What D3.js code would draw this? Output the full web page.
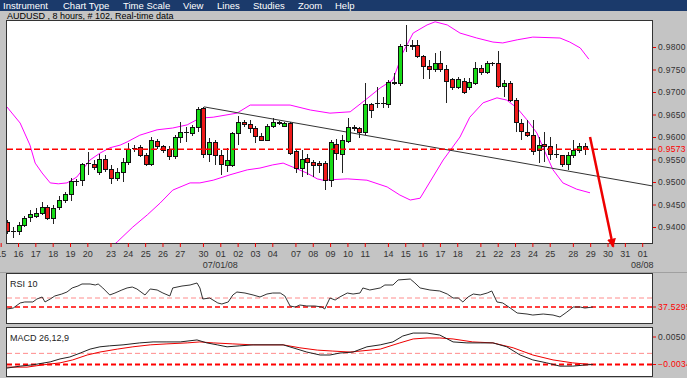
<!DOCTYPE html>
<html>
<head>
<meta charset="utf-8">
<title>AUDUSD 8 hours</title>
<script src="https://d3js.org/d3.v7.min.js"></script>
<style>
  body { margin: 0; background: #c4c4c4; }
  svg { display: block; font-family: "Liberation Sans", Arial, sans-serif; }
</style>
</head>
<body>
<div id="chart"></div>
<script>
// ---- data ----
const menuLabels = ["Instrument", "Chart Type", "Time Scale", "View", "Lines", "Studies", "Zoom", "Help"];
const titleText = "AUDUSD , 8 hours, # 102, Real-time data";

// day ticks (slot = 8h bar index, 0 = Jun 16 00:00)
const dayLabels = ["15","16","17","18","19","20","23","24","25","26","27","30","01","02","03","04","07","08","09","10","11","14","15","16","17","18","21","22","23","24","25","28","29","30","31","01"];
const daySlots = [-3,0,3,6,9,12,16,19,22,25,28,32,35,38,41,44,48,51,54,57,60,64,67,70,73,76,80,83,86,89,92,96,99,102,105,108];
const monthLabels = ["07/01/08", "08/08"];
const monthSlots = [35, 108];

const priceTicks = [0.9400, 0.9450, 0.9500, 0.9550, 0.9600, 0.9650, 0.9700, 0.9750, 0.9800];
const lastPrice = 0.9573;

// candles, first one at slot -2
const firstSlot = -2;
const candleOpen = [
  0.9409,0.9389,0.9389,0.9404,0.9422,0.9424,0.9431,0.9444,0.9420,0.9444,
  0.9460,0.9473,0.9502,0.9504,0.9542,0.9540,0.9522,0.9551,0.9527,0.9507,
  0.9522,0.9544,0.9575,0.9576,0.9560,0.9540,0.9591,0.9578,0.9573,0.9556,
  0.9600,0.9610,0.9607,0.9622,0.9664,0.9562,0.9587,0.9560,0.9536,0.9536,
  0.9607,0.9633,0.9627,0.9620,0.9602,0.9593,0.9624,0.9633,0.9624,0.9629,
  0.9567,0.9531,0.9553,0.9544,0.9542,0.9542,0.9504,0.9584,0.9562,0.9591,
  0.9622,0.9618,0.9609,0.9673,0.9675,0.9675,0.9673,0.9720,0.9718,0.9803,
  0.9802,0.9804,0.9778,0.9756,0.9749,0.9764,0.9751,0.9727,0.9711,0.9724,
  0.9711,0.9720,0.9753,0.9744,0.9764,0.9764,0.9713,0.9720,0.9682,0.9631,
  0.9611,0.9604,0.9569,0.9584,0.9578,0.9561,0.9558,0.9540,0.9558,0.9571,0.9578];
const candleHigh = [
  0.9416,0.9400,0.9411,0.9424,0.9438,0.9442,0.9456,0.9449,0.9449,0.9469,
  0.9478,0.9509,0.9507,0.9542,0.9567,0.9549,0.9562,0.9560,0.9538,0.9531,
  0.9553,0.9587,0.9582,0.9582,0.9564,0.9600,0.9596,0.9582,0.9580,0.9604,
  0.9633,0.9622,0.9627,0.9667,0.9667,0.9598,0.9593,0.9571,0.9576,0.9611,
  0.9647,0.9638,0.9638,0.9624,0.9609,0.9629,0.9642,0.9636,0.9633,0.9633,
  0.9571,0.9571,0.9562,0.9549,0.9547,0.9547,0.9593,0.9596,0.9604,0.9642,
  0.9627,0.9622,0.9720,0.9676,0.9711,0.9689,0.9727,0.9742,0.9807,0.9849,
  0.9815,0.9815,0.9782,0.9771,0.9787,0.9791,0.9760,0.9731,0.9733,0.9731,
  0.9731,0.9767,0.9760,0.9769,0.9767,0.9791,0.9727,0.9724,0.9687,0.9640,
  0.9638,0.9638,0.9600,0.9611,0.9600,0.9584,0.9560,0.9567,0.9593,0.9587,0.9587];
const candleLow = [
  0.9384,0.9376,0.9382,0.9400,0.9411,0.9420,0.9427,0.9416,0.9407,0.9438,
  0.9453,0.9458,0.9491,0.9491,0.9516,0.9527,0.9516,0.9522,0.9496,0.9502,
  0.9500,0.9538,0.9567,0.9556,0.9536,0.9536,0.9573,0.9564,0.9549,0.9551,
  0.9587,0.9589,0.9602,0.9611,0.9553,0.9544,0.9538,0.9516,0.9522,0.9533,
  0.9582,0.9622,0.9609,0.9587,0.9591,0.9591,0.9620,0.9627,0.9622,0.9560,
  0.9520,0.9511,0.9516,0.9511,0.9520,0.9482,0.9489,0.9549,0.9520,0.9587,
  0.9613,0.9598,0.9604,0.9642,0.9664,0.9664,0.9664,0.9716,0.9713,0.9789,
  0.9793,0.9776,0.9729,0.9729,0.9744,0.9744,0.9676,0.9704,0.9707,0.9696,
  0.9704,0.9716,0.9738,0.9740,0.9758,0.9709,0.9689,0.9678,0.9611,0.9593,
  0.9600,0.9560,0.9542,0.9544,0.9549,0.9553,0.9533,0.9527,0.9553,0.9564,0.9560];
const candleClose = [
  0.9389,0.9389,0.9404,0.9420,0.9427,0.9431,0.9444,0.9420,0.9442,0.9458,
  0.9473,0.9502,0.9502,0.9538,0.9542,0.9533,0.9551,0.9527,0.9507,0.9522,
  0.9544,0.9573,0.9575,0.9560,0.9540,0.9593,0.9578,0.9571,0.9556,0.9600,
  0.9609,0.9610,0.9622,0.9662,0.9562,0.9587,0.9558,0.9538,0.9547,0.9607,
  0.9633,0.9627,0.9620,0.9602,0.9593,0.9624,0.9633,0.9631,0.9631,0.9564,
  0.9531,0.9551,0.9544,0.9536,0.9536,0.9504,0.9587,0.9564,0.9593,0.9622,
  0.9618,0.9609,0.9673,0.9660,0.9675,0.9675,0.9722,0.9722,0.9802,0.9803,
  0.9804,0.9778,0.9756,0.9749,0.9764,0.9749,0.9724,0.9711,0.9727,0.9698,
  0.9722,0.9753,0.9744,0.9764,0.9764,0.9713,0.9720,0.9682,0.9633,0.9613,
  0.9604,0.9567,0.9582,0.9578,0.9562,0.9561,0.9540,0.9558,0.9571,0.9578,0.9573];

// bollinger bands
const upperSlots = [-2.1,0.2,1.9,2.8,4.0,5.4,6.8,8.3,10.0,12.3,14.0,15.7,17.5,18.7,20.9,23.9,26.6,29.1,31.3,33.6,37.7,40.0,46.9,50.4,53.8,57.3,59.9,62.5,64.7,66.4,68.2,70.6,72.0,74.1,76.3,79.2,82.0,83.7,86.2,88.9,93.6,95.3,97.1,98.6];
const upperBand = [0.9667,0.9631,0.9582,0.9542,0.9520,0.9498,0.9496,0.9498,0.9511,0.9549,0.9564,0.9576,0.9582,0.9589,0.9604,0.9616,0.9620,0.9627,0.9642,0.9644,0.9653,0.9671,0.9671,0.9660,0.9653,0.9656,0.9682,0.9709,0.9727,0.9787,0.9831,0.9849,0.9856,0.9849,0.9831,0.9820,0.9811,0.9809,0.9816,0.9822,0.9820,0.9811,0.9798,0.9773];
const lowerSlots = [15.5,17.0,19.7,22.2,24.4,26.6,29.6,31.3,33.6,36.5,39.5,41.7,43.9,45.7,47.4,49.8,51.6,52.6,56.8,60.2,63.7,65.9,67.7,69.4,73.4,76.3,78.0,80.3,82.7,84.4,86.2,87.9,89.6,91.0,92.4,94.1,96.5,98.8];
const lowerBand = [0.9350,0.9367,0.9400,0.9427,0.9453,0.9482,0.9498,0.9498,0.9504,0.9516,0.9527,0.9531,0.9538,0.9542,0.9533,0.9520,0.9507,0.9504,0.9507,0.9504,0.9489,0.9471,0.9460,0.9464,0.9549,0.9600,0.9644,0.9676,0.9687,0.9682,0.9664,0.9638,0.9609,0.9567,0.9527,0.9498,0.9484,0.9476];

// hand drawn lines
const trendSlots = [32, 109.7];
const trendPrices = [0.9667, 0.9491];
const arrowSlots = [98.8, 102.8];
const arrowPrices = [0.9600, 0.9356];

// RSI 10
const rsiSlots = [-2.1,-1.0,0.2,1.0,2.4,3.1,4.0,4.5,5.4,6.2,7.4,8.3,9.2,10.2,10.9,12.3,13.2,13.7,14.5,15.7,16.6,17.8,18.7,19.6,20.4,21.8,22.7,23.9,24.9,26.1,26.6,28.2,29.6,30.8,31.3,31.8,33.0,34.4,35.1,36.2,37.0,37.7,39.1,40.5,41.7,42.9,43.9,45.2,46.0,46.9,47.8,48.6,49.8,51.2,52.4,52.9,53.8,54.7,55.5,56.8,57.8,59.0,59.5,60.7,62.5,63.3,64.7,65.6,67.7,68.5,69.4,71.1,72.8,74.1,75.1,76.0,76.8,77.7,78.6,79.8,81.0,81.8,82.7,83.7,85.0,86.2,87.9,88.9,90.7,92.4,93.6,94.8,95.9,97.1,97.9,99.3];
const rsiValues = [34.8,36.1,43.1,44.5,44.5,48.6,51.4,44.5,48.6,52.8,55.5,58.3,63.9,66.6,69.4,69.4,68.0,69.4,63.9,54.2,56.9,61.1,63.9,65.2,62.5,54.2,62.5,61.1,56.9,52.8,63.9,66.6,68.0,70.8,63.9,48.6,50.0,43.1,41.7,44.5,54.2,58.3,56.9,54.2,51.4,55.5,56.9,56.9,52.8,38.9,37.5,40.3,38.9,38.9,37.5,34.8,50.0,47.2,51.4,56.9,55.5,56.9,63.9,61.1,63.9,68.0,68.0,75.0,76.3,70.8,63.9,61.1,59.7,55.5,50.0,50.0,44.5,51.4,55.5,54.2,56.9,59.7,44.5,43.1,36.1,29.2,27.8,26.4,27.8,26.4,23.7,30.6,37.5,37.5,36.1,37.5];
const rsiMid = 50;
const rsiLast = 37.5295;

// MACD 26,12,9
const macdSlots = [-2.1,0.2,2.4,5.4,7.1,8.8,10.6,12.3,14.0,15.7,18.0,20.9,23.2,25.6,27.9,30.8,32.5,34.3,36.0,38.2,40.5,45.7,47.4,49.8,52.1,53.8,55.5,57.8,60.2,62.5,64.7,66.4,68.2,70.6,72.8,75.1,77.5,79.8,82.0,84.4,86.7,88.9,91.3,93.6,95.8,98.3,99.3];
const macdValues = [-0.0045,-0.0039,-0.0035,-0.0026,-0.0017,-0.0011,0.0001,0.0013,0.0020,0.0023,0.0026,0.0032,0.0035,0.0035,0.0035,0.0041,0.0032,0.0026,0.0020,0.0023,0.0026,0.0026,0.0017,0.0004,-0.0005,-0.0005,0.0001,0.0004,0.0020,0.0026,0.0035,0.0053,0.0062,0.0062,0.0056,0.0035,0.0032,0.0032,0.0032,0.0020,-0.0005,-0.0020,-0.0029,-0.0039,-0.0039,-0.0035,-0.0034];
const signalSlots = [-2.1,1.4,4.2,7.1,9.3,11.8,14.0,17.0,19.7,22.7,25.6,29.1,31.3,33.6,37.0,40.5,45.7,48.6,51.6,54.3,57.3,59.0,62.5,65.9,68.2,70.6,72.8,75.1,78.5,82.0,85.5,88.9,92.4,95.8,98.3,99.3];
const signalValues = [-0.0042,-0.0042,-0.0035,-0.0029,-0.0020,-0.0005,0.0004,0.0013,0.0020,0.0026,0.0029,0.0032,0.0035,0.0032,0.0029,0.0026,0.0026,0.0017,0.0010,0.0007,0.0004,0.0007,0.0013,0.0032,0.0044,0.0047,0.0047,0.0044,0.0035,0.0032,0.0017,-0.0005,-0.0020,-0.0029,-0.0033,-0.0034];
const macdTick = 0.0050;
const macdLast = -0.0034;

// ---- layout ----
var W = 687, H = 378;
var plot = { left: 7, right: 652, top: 21, bottom: 243 };
var rsiBox = { top: 274, bottom: 323 };
var macdBox = { top: 328, bottom: 376 };
var GREEN = "#16dc16", RED = "#ee1a1a";

var x = d3.scaleLinear().domain([0, 108]).range([19, 643.2]);
var xDay = d3.scaleLinear().domain([0, 108]).range([18, 642.2]);
var y = d3.scaleLinear().domain([0.9400, 0.9800]).range([227, 47]);
var yRsi = d3.scaleLinear().domain([rsiLast, rsiMid]).range([307, 298]);
var yMacd = d3.scaleLinear().domain([macdLast, macdTick]).range([364.5, 337]);

var svg = d3.select("#chart").append("svg").attr("width", W).attr("height", H);
svg.append("rect").attr("width", W).attr("height", H).attr("fill", "#c4c4c4");

// menu + title bar
svg.append("rect").attr("width", W).attr("height", 11).attr("fill", "#1b3a6b");
var menuX = [3, 63, 123, 183, 217, 253, 298, 335];
svg.selectAll(".menu").data(menuLabels).enter().append("text")
    .attr("x", function (d, i) { return menuX[i]; })
    .attr("y", 9)
    .attr("font-size", 9.5)
    .attr("fill", "#fff")
    .text(function (d) { return d; });
svg.append("text").attr("x", 7).attr("y", 19).attr("font-size", 9).attr("fill", "#000").text(titleText);

// panels
function panel(top, bottom, id) {
    svg.append("rect")
        .attr("x", plot.left - 0.5).attr("y", top - 0.5)
        .attr("width", plot.right - plot.left + 1).attr("height", bottom - top + 1)
        .attr("fill", "#fff").attr("stroke", "#333");
    svg.append("clipPath").attr("id", id).append("rect")
        .attr("x", plot.left).attr("y", top)
        .attr("width", plot.right - plot.left).attr("height", bottom - top);
    return svg.append("g").attr("clip-path", "url(#" + id + ")");
}
var gMain = panel(plot.top, plot.bottom, "clipMain");
var gRsi = panel(rsiBox.top, rsiBox.bottom, "clipRsi");
var gMacd = panel(macdBox.top, macdBox.bottom, "clipMacd");
svg.append("line").attr("x1", 0).attr("x2", W).attr("y1", 272.5).attr("y2", 272.5).attr("stroke", "#a0a0a0");

// main chart
var priceLine = d3.line().x(function (d) { return x(d[0]); }).y(function (d) { return y(d[1]); });
[d3.zip(upperSlots, upperBand), d3.zip(lowerSlots, lowerBand)].forEach(function (pts) {
    gMain.append("path").datum(pts).attr("d", priceLine)
        .attr("fill", "none").attr("stroke", "#ff00ff").attr("stroke-width", 1);
});
gMain.append("path").datum(d3.zip(trendSlots, trendPrices)).attr("d", priceLine)
    .attr("fill", "none").attr("stroke", "#333").attr("stroke-width", 1);

var candles = candleOpen.map(function (o, i) {
    return { slot: firstSlot + i, o: o, h: candleHigh[i], l: candleLow[i], c: candleClose[i] };
});
var cg = gMain.selectAll(".candle").data(candles).enter().append("g").attr("shape-rendering", "crispEdges");
cg.append("line")
    .attr("x1", function (d) { return x(d.slot); }).attr("x2", function (d) { return x(d.slot); })
    .attr("y1", function (d) { return y(d.h); }).attr("y2", function (d) { return y(d.l); })
    .attr("stroke", "#222");
cg.filter(function (d) { return d.o !== d.c; }).append("rect")
    .attr("x", function (d) { return x(d.slot) - 2; })
    .attr("width", 4)
    .attr("y", function (d) { return y(Math.max(d.o, d.c)); })
    .attr("height", function (d) { return Math.max(1, Math.abs(y(d.o) - y(d.c))); })
    .attr("fill", function (d) { return d.c > d.o ? GREEN : RED; })
    .attr("stroke", "#111");
cg.filter(function (d) { return d.o === d.c; }).append("line")
    .attr("x1", function (d) { return x(d.slot) - 2.5; }).attr("x2", function (d) { return x(d.slot) + 2.5; })
    .attr("y1", function (d) { return y(d.o); }).attr("y2", function (d) { return y(d.o); })
    .attr("stroke", "#111");

gMain.append("line")
    .attr("x1", plot.left).attr("x2", plot.right)
    .attr("y1", y(lastPrice)).attr("y2", y(lastPrice))
    .attr("stroke", "#ff0000").attr("stroke-width", 1.5).attr("stroke-dasharray", "6,3");

// right price axis
var yAxis = d3.axisRight(y).tickValues(priceTicks).tickFormat(d3.format(".4f")).tickSize(3).tickPadding(2);
var gy = svg.append("g").attr("transform", "translate(" + (plot.right + 1) + ",0)").call(yAxis)
    .attr("font-size", 8.5).attr("font-family", "Liberation Sans, Arial, sans-serif");
gy.select(".domain").remove();
gy.selectAll("line").attr("stroke", "#e00");
gy.selectAll("text").attr("fill", "#333").attr("letter-spacing", 0.3);

function sideLabel(yPos, txt, color) {
    svg.append("line").attr("x1", plot.right + 1).attr("x2", plot.right + 4)
        .attr("y1", yPos).attr("y2", yPos).attr("stroke", "#e00");
    svg.append("text").attr("x", plot.right + 6).attr("y", yPos).attr("dy", "0.32em")
        .attr("font-size", 8.5).attr("letter-spacing", 0.3).attr("fill", color).text(txt);
}
sideLabel(y(lastPrice), d3.format(".4f")(lastPrice), "#ff0000");

// time axis
var xAxis = d3.axisBottom(xDay).tickValues(daySlots)
    .tickFormat(function (d, i) { return dayLabels[i]; })
    .tickSize(4).tickPadding(4);
var gx = svg.append("g").attr("transform", "translate(0," + plot.bottom + ")").call(xAxis)
    .attr("font-size", 9).attr("font-family", "Liberation Sans, Arial, sans-serif");
gx.select(".domain").remove();
gx.selectAll("line").attr("stroke", "#e00");
gx.selectAll("text").attr("fill", "#333");
svg.selectAll(".month").data(monthLabels).enter().append("text")
    .attr("x", function (d, i) { return xDay(monthSlots[i]); })
    .attr("y", 268)
    .attr("text-anchor", "middle")
    .attr("font-size", 9)
    .attr("fill", "#333")
    .text(function (d) { return d; });

// red arrow
svg.append("defs").append("marker")
    .attr("id", "head").attr("viewBox", "0 0 10 10")
    .attr("refX", 9).attr("refY", 5)
    .attr("markerWidth", 9).attr("markerHeight", 9)
    .attr("markerUnits", "userSpaceOnUse")
    .attr("orient", "auto")
    .append("path").attr("d", "M0,0L10,5L0,10z").attr("fill", "#ee0000");
svg.append("path").datum(d3.zip(arrowSlots, arrowPrices)).attr("d", priceLine)
    .attr("fill", "none").attr("stroke", "#ee0000").attr("stroke-width", 2.5)
    .attr("marker-end", "url(#head)");

// RSI
gRsi.append("line").attr("x1", plot.left).attr("x2", plot.right)
    .attr("y1", yRsi(rsiMid)).attr("y2", yRsi(rsiMid))
    .attr("stroke", "#ff8c8c").attr("stroke-dasharray", "5,3");
gRsi.append("line").attr("x1", plot.left).attr("x2", plot.right)
    .attr("y1", yRsi(rsiLast)).attr("y2", yRsi(rsiLast))
    .attr("stroke", "#ff0000").attr("stroke-width", 1.5).attr("stroke-dasharray", "5,3");
gRsi.append("path").datum(d3.zip(rsiSlots, rsiValues))
    .attr("d", d3.line().x(function (d) { return x(d[0]); }).y(function (d) { return yRsi(d[1]); }))
    .attr("fill", "none").attr("stroke", "#333").attr("stroke-width", 1);
svg.append("text").attr("x", 10).attr("y", 287).attr("font-size", 9).attr("fill", "#222").text("RSI 10");
sideLabel(yRsi(rsiLast), d3.format(".4f")(rsiLast), "#ff0000");

// MACD
gMacd.append("line").attr("x1", plot.left).attr("x2", plot.right)
    .attr("y1", yMacd(0)).attr("y2", yMacd(0))
    .attr("stroke", "#ff8c8c").attr("stroke-dasharray", "5,3");
gMacd.append("line").attr("x1", plot.left).attr("x2", plot.right)
    .attr("y1", yMacd(macdLast)).attr("y2", yMacd(macdLast))
    .attr("stroke", "#ff0000").attr("stroke-width", 2).attr("stroke-dasharray", "5,3");
var macdLine = d3.line().x(function (d) { return x(d[0]); }).y(function (d) { return yMacd(d[1]); });
gMacd.append("path").datum(d3.zip(signalSlots, signalValues)).attr("d", macdLine)
    .attr("fill", "none").attr("stroke", "#ee0000").attr("stroke-width", 1);
gMacd.append("path").datum(d3.zip(macdSlots, macdValues)).attr("d", macdLine)
    .attr("fill", "none").attr("stroke", "#222").attr("stroke-width", 1);
svg.append("text").attr("x", 10).attr("y", 341).attr("font-size", 9).attr("fill", "#222").text("MACD 26,12,9");
sideLabel(yMacd(macdTick), d3.format(".4f")(macdTick), "#333");
sideLabel(yMacd(macdLast), d3.format(".4f")(macdLast), "#ff0000");
</script>
</body>
</html>
